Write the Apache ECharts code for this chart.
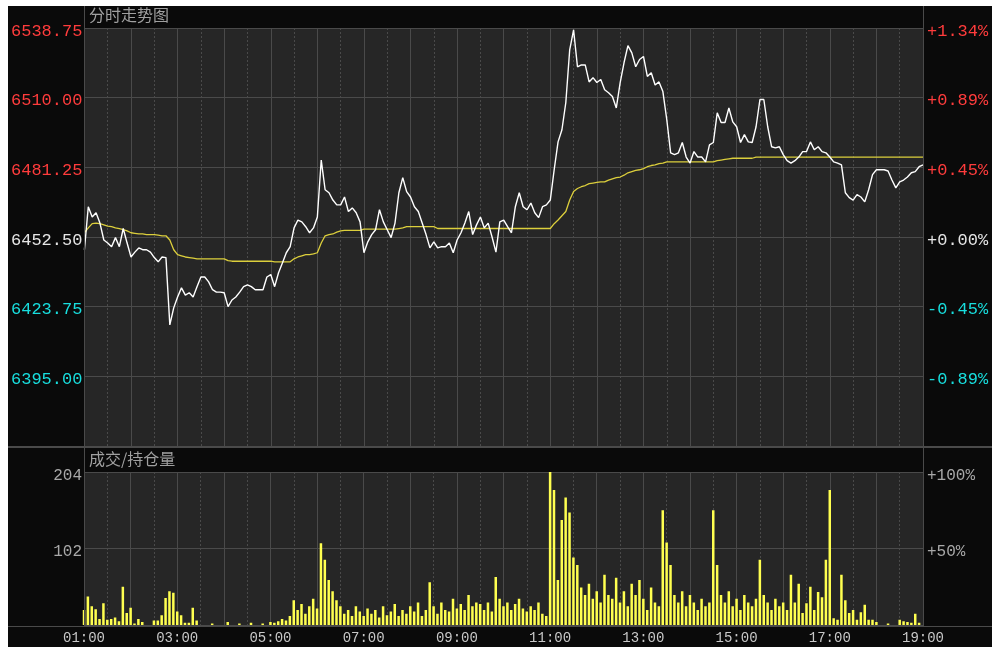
<!DOCTYPE html>
<html><head><meta charset="utf-8">
<script src="https://cdn.jsdelivr.net/npm/echarts@6/dist/echarts.min.js"></script>
<style>html,body{margin:0;padding:0;background:#fff;overflow:hidden;width:992px;height:647px}
#c{position:absolute;left:8px;top:6px;width:984px;height:641px;background:#0a0a0a}</style>
</head><body><div id="c"></div>
<script>
// ---- data (5-minute samples starting 01:00) ----
const stepMinutes = 5;
const price = [
6447.25,6465,6460.75,6462.5,6458.25,6451.25,6450,6448.5,6452.25,6448.5,6456,6450,
6444.25,6446.25,6448,6447.25,6447.25,6446.25,6444,6442.25,6444.25,6444,6416.25,6423.25,
6427.75,6431.5,6428.5,6429.5,6427.75,6432,6436,6436,6434,6430.75,6429.75,6429.75,
6429.5,6423.75,6426.5,6427.75,6429.75,6432,6432.75,6432,6430.75,6430.75,6430.75,6436,
6437,6432,6437.75,6441.75,6446,6448.5,6456.25,6459.5,6458.75,6456.75,6454.25,6456.25,
6460.75,6484.25,6472,6470.75,6467.75,6465.75,6465.75,6469,6463,6464.5,6462.5,6458.75,
6446,6450.5,6453.5,6455.5,6463.75,6458.75,6455.5,6452.25,6458.25,6470.75,6477,6471.25,
6469,6465,6463,6458.25,6453.5,6448,6450.5,6448,6448.5,6448.5,6450,6446,
6451.25,6454.25,6458.25,6463,6453.5,6457.5,6460.75,6456.25,6458.25,6452.5,6446.25,6458.75,
6459.5,6456.75,6454.25,6465,6470.75,6465,6463.75,6466.5,6462.5,6460.5,6465,6465.75,
6467.75,6480.25,6491.75,6496.75,6508,6529.75,6538,6522.75,6523.5,6523.5,6516.5,6518.25,
6516.25,6517.5,6513.25,6512,6510.5,6505.75,6516.25,6524.5,6531.5,6528.5,6522.75,6525.75,
6527,6518.75,6520.25,6515.25,6516.5,6512.5,6501,6487.25,6486.5,6487.25,6491.5,6485.5,
6483,6487.75,6485.5,6485.5,6483.5,6490.5,6491.5,6503.75,6499.75,6499.75,6505.75,6500,
6498,6491.5,6494.75,6491.75,6491.5,6498,6509.25,6509.25,6498,6489.75,6489.25,6489.75,
6486.5,6484,6483,6484,6485.5,6487.75,6487.75,6491.75,6488.5,6489.75,6487.75,6487.25,
6485.5,6483.5,6483,6482.25,6470.75,6468.75,6467.75,6470,6469,6467,6472,6478.25,
6480.25,6480.25,6480.25,6479.75,6476,6472.75,6475.25,6476,6477.25,6479,6479.5,6481.5,
6482.25
];
const avgPrice = [
6454.25,6456.25,6458,6458.25,6458,6457.5,6457,6456.75,6456.25,6456,6455.5,6455,
6454.25,6454,6453.75,6453.75,6453.5,6453.5,6453.5,6453.25,6453,6453,6451.25,6447.25,
6445.25,6444.75,6444.25,6444,6443.75,6443.5,6443.5,6443.5,6443.5,6443.5,6443.5,6443.5,
6443.5,6442.75,6442.5,6442.5,6442.5,6442.5,6442.5,6442.5,6442.5,6442.5,6442.5,6442.5,
6442.5,6442.25,6442.25,6442.25,6442.25,6442.25,6443.5,6444.25,6444.75,6445.25,6445.25,6445.5,
6446,6450,6453,6453.5,6453.75,6454.5,6455,6455.25,6455.25,6455.25,6455.25,6455.25,
6455.75,6455.75,6455.75,6455.75,6455.75,6455.75,6455.75,6455.75,6455.75,6456,6456.25,6456.75,
6456.75,6456.75,6456.75,6456.75,6456.75,6456.75,6456.75,6456,6456,6456,6456,6456,
6456,6456,6456,6456,6456,6456,6456,6456,6456,6456,6456,6456,
6456,6456,6456,6456,6456,6456,6456,6456,6456,6456,6456,6456,
6456,6458,6459.5,6461.25,6463,6467.75,6471.25,6472.5,6473.25,6473.75,6474.5,6474.75,
6475,6475.25,6475.25,6476,6476.5,6477,6477.25,6478,6479,6479.5,6480,6480.25,
6480.75,6481.5,6482,6482.25,6482.75,6483,6483.5,6483.5,6483.5,6483.5,6483.5,6483.5,
6483.5,6483.5,6483.5,6483.5,6483.5,6483.5,6483.5,6484,6484.25,6484.5,6484.75,6485,
6485,6485,6485,6485,6485,6485.5,6485.5,6485.5,6485.5,6485.5,6485.5,6485.5,
6485.5,6485.5,6485.5,6485.5,6485.5,6485.5,6485.5,6485.5,6485.5,6485.5,6485.5,6485.5,
6485.5,6485.5,6485.5,6485.5,6485.5,6485.5,6485.5,6485.5,6485.5,6485.5,6485.5,6485.5,
6485.5,6485.5,6485.5,6485.5,6485.5,6485.5,6485.5,6485.5,6485.5,6485.5,6485.5,6485.5,
6485.5
];
const volume = [
20,38,25,21,8,29,7,8,10,5,51,16,
23,2,8,4,0,0,6,6,13,36,45,43,
18,13,3,3,23,6,0,0,0,2,0,0,
0,4,0,0,2,0,0,3,0,0,2,0,
4,3,5,8,6,12,33,20,28,15,25,35,
22,109,87,60,45,33,25,15,20,12,25,18,
12,22,15,20,10,25,13,18,28,12,20,15,
25,18,30,12,20,57,25,15,30,20,18,35,
22,28,20,40,25,30,28,20,30,18,64,35,
25,30,20,28,35,22,18,25,20,30,15,12,
204,180,60,140,170,150,90,80,50,40,55,35,
45,30,67,40,35,63,30,45,25,55,40,60,
35,20,50,30,25,153,110,80,40,30,45,25,
40,30,20,35,25,30,153,80,40,30,45,25,
35,20,40,30,25,35,87,40,30,20,35,25,
30,20,67,30,55,16,29,51,20,44,37,87,
180,9,7,67,33,16,20,7,17,27,7,7,
4,0,0,2,0,0,7,5,4,3,15,3,
0
];
const timeLabels = ['01:00','03:00','05:00','07:00','09:00','11:00','13:00','15:00','17:00','19:00'];
const priceLabels = ['6395.00','6423.75','6452.50','6481.25','6510.00','6538.75'];
const pctLabels = ['-0.89%','-0.45%','+0.00%','+0.45%','+0.89%','+1.34%'];
const volLabels = ['102','204'];
const volPctLabels = ['+50%','+100%'];
const basePrice = 6452.5;
const priceStep = 28.75;
const volMax = 204;

// ---- build ----
const times = price.map((_, i) => i * stepMinutes);
const pMin = basePrice - 3 * priceStep, pMax = basePrice + 3 * priceStep;
const GRID = '#4a4a4a';
const mono = '"Liberation Mono", "DejaVu Sans Mono", monospace';
const cjk = '"Noto Sans CJK SC", sans-serif';
const idx = (v, min, step) => Math.round((v - min) / step);
const pKey = v => { v = Number(v); return Math.abs(v - basePrice) < 1e-6 ? 'z' : (v > basePrice ? 'u' : 'd'); };
const pRich = {
  u: { color: '#ff3c3c', fontFamily: mono, fontSize: 17, padding: [6, 0, 0, 0] },
  d: { color: '#18dede', fontFamily: mono, fontSize: 17, padding: [6, 0, 0, 0] },
  z: { color: '#e6e6e6', fontFamily: mono, fontSize: 17, padding: [6, 0, 0, 0] }
};
const vRich = { g: { color: '#a8a8a8', fontFamily: mono, fontSize: 16, padding: [7, 0, 0, 0] } };

const xCommon = {
  type: 'value', min: 0, max: 1080, interval: 60,
  axisLine: { show: false }, axisTick: { show: false },
  splitLine: { show: true, lineStyle: { color: GRID, width: 1 } },
  minorTick: { show: false, splitNumber: 2 },
  minorSplitLine: { show: true, lineStyle: { color: '#4a4a4a', type: [2, 2], width: 1 } }
};

const chart = echarts.init(document.getElementById('c'), null, { renderer: 'canvas' });
chart.setOption({
  animation: false,
  backgroundColor: '#0a0a0a',
  grid: [
    { left: 76, top: 22, width: 839, height: 418, show: true, backgroundColor: '#262626', borderWidth: 0 },
    { left: 76, top: 466, width: 839, height: 153, show: true, backgroundColor: '#262626', borderWidth: 0 }
  ],
  xAxis: [
    Object.assign({ gridIndex: 0, axisLabel: { show: false } }, xCommon),
    Object.assign({ gridIndex: 1, axisLabel: { show: true, margin: 6, color: '#c8c8c8', fontFamily: mono, fontSize: 14,
      formatter: v => (v % 120 === 0 ? timeLabels[v / 120] : '') } }, xCommon)
  ],
  yAxis: [
    { gridIndex: 0, type: 'value', position: 'left', min: pMin, max: pMax, interval: priceStep,
      axisLine: { show: false }, axisTick: { show: false },
      splitLine: { show: true, lineStyle: { color: GRID } },
      axisLabel: { margin: 2, showMinLabel: false, rich: pRich,
        formatter: v => { const k = idx(v, pMin, priceStep); return k > 0 ? '{' + pKey(v) + '|' + priceLabels[k - 1] + '}' : ''; } } },
    { gridIndex: 0, type: 'value', position: 'right', min: pMin, max: pMax, interval: priceStep,
      axisLine: { show: false }, axisTick: { show: false }, splitLine: { show: false },
      axisLabel: { margin: 4, showMinLabel: false, rich: pRich,
        formatter: v => { const k = idx(v, pMin, priceStep); return k > 0 ? '{' + pKey(v) + '|' + pctLabels[k - 1] + '}' : ''; } } },
    { gridIndex: 1, type: 'value', position: 'left', min: 0, max: volMax, interval: volMax / 2,
      axisLine: { show: false }, axisTick: { show: false },
      splitLine: { show: true, lineStyle: { color: GRID } },
      axisLabel: { margin: 2, showMinLabel: false, rich: vRich,
        formatter: v => { const k = idx(v, 0, volMax / 2); return k > 0 ? '{g|' + volLabels[k - 1] + '}' : ''; } } },
    { gridIndex: 1, type: 'value', position: 'right', min: 0, max: volMax, interval: volMax / 2,
      axisLine: { show: false }, axisTick: { show: false }, splitLine: { show: false },
      axisLabel: { margin: 4, showMinLabel: false, rich: vRich,
        formatter: v => { const k = idx(v, 0, volMax / 2); return k > 0 ? '{g|' + volPctLabels[k - 1] + '}' : ''; } } }
  ],
  series: [
    { type: 'line', xAxisIndex: 0, yAxisIndex: 0, data: times.map((t, i) => [t, avgPrice[i]]),
      showSymbol: false, lineStyle: { color: '#dccf3c', width: 1.3 }, z: 3 },
    { type: 'line', xAxisIndex: 0, yAxisIndex: 0, data: times.map((t, i) => [t, price[i]]),
      showSymbol: false, lineStyle: { color: '#ffffff', width: 1.4 }, z: 4 },
    { type: 'bar', xAxisIndex: 1, yAxisIndex: 2, data: times.map((t, i) => [t, volume[i]]),
      barWidth: 2.5, itemStyle: { color: '#ffff50' } }
  ],
  graphic: [
    { type: 'line', shape: { x1: 76.5, y1: 0, x2: 76.5, y2: 620 }, style: { stroke: GRID, lineWidth: 1 }, z: 100 },
    { type: 'line', shape: { x1: 915.5, y1: 0, x2: 915.5, y2: 620 }, style: { stroke: GRID, lineWidth: 1 }, z: 100 },
    { type: 'line', shape: { x1: 0, y1: 441, x2: 984, y2: 441 }, style: { stroke: '#4a4a4a', lineWidth: 2 }, z: 100 },
    { type: 'line', shape: { x1: 0, y1: 620.5, x2: 984, y2: 620.5 }, style: { stroke: GRID, lineWidth: 1 }, z: 100 },
    { type: 'text', left: 81, top: 1, style: { text: '分时走势图', fill: '#a0a0a0', font: '16px ' + cjk }, z: 100 },
    { type: 'text', left: 81, top: 445, style: { text: '成交/持仓量', fill: '#a0a0a0', font: '16px ' + cjk }, z: 100 }
  ]
});
</script></body></html>
